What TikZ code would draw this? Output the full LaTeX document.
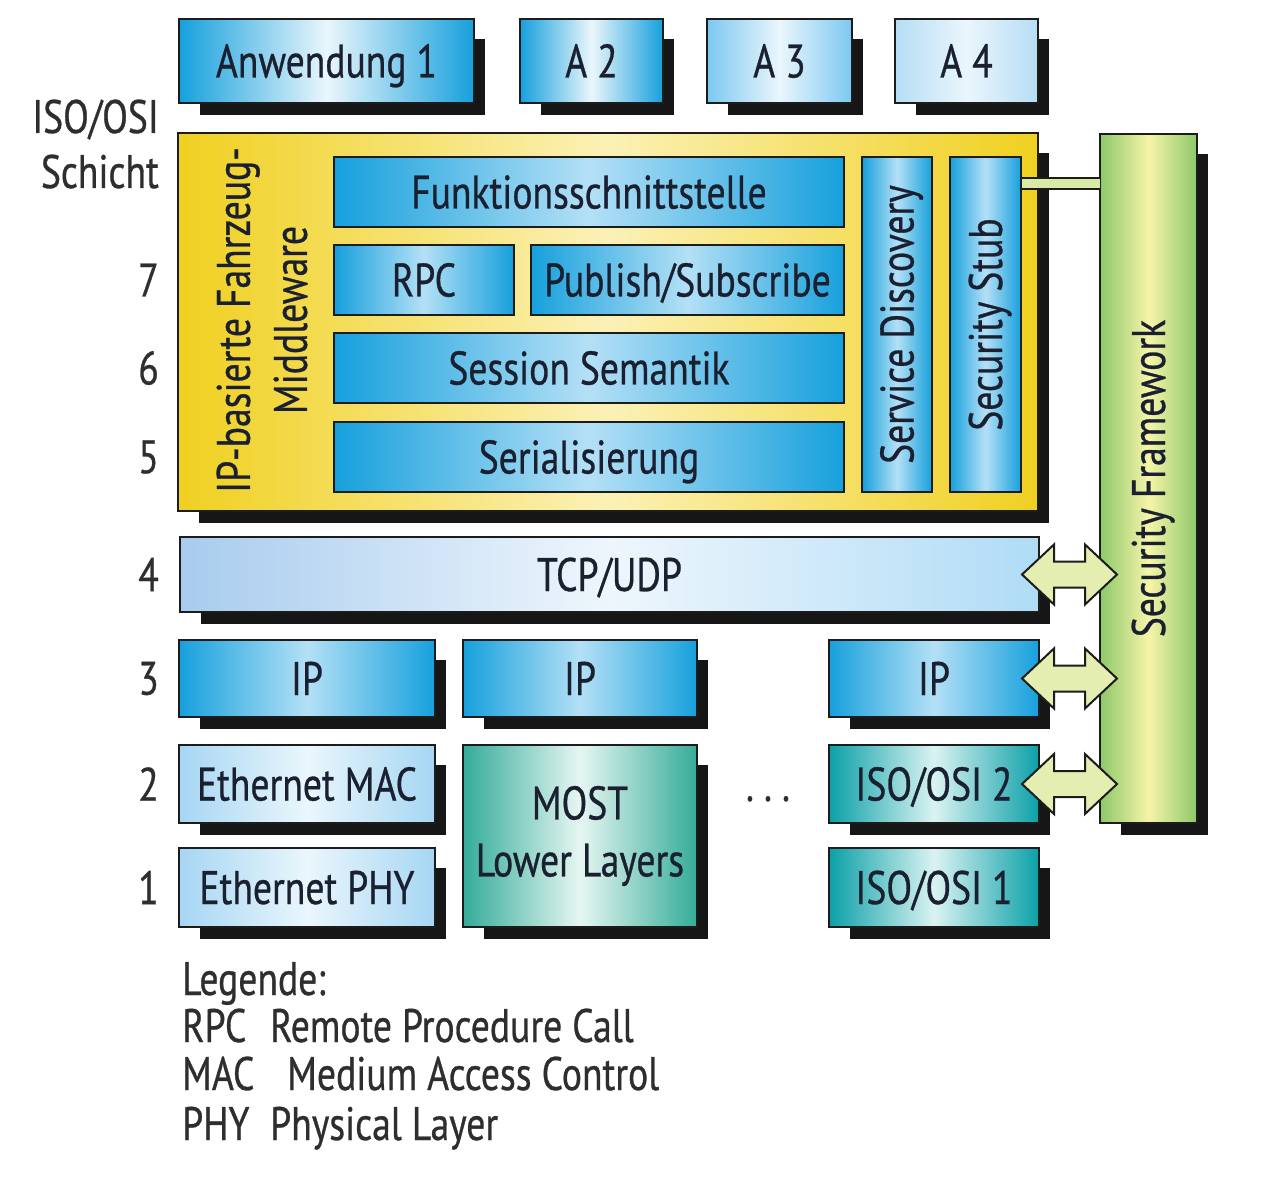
\documentclass[tikz,border=0pt]{standalone}
\usepackage{fontspec}
\setmainfont{PT Sans}[FakeStretch=0.8,FakeBold=0.6]
\usetikzlibrary{calc}
\pgfdeclarelayer{whitebg}
\pgfdeclarelayer{shadl}
\pgfsetlayers{whitebg,shadl,main}
\definecolor{outc}{HTML}{1C1C1C}
\definecolor{shadowc}{HTML}{161616}
\definecolor{txtc}{HTML}{1A2030}
\definecolor{labc}{HTML}{2E2E2E}
\definecolor{blueS}{HTML}{16A0DC}
\definecolor{blueW}{HTML}{EAF6FC}
\definecolor{blueM}{HTML}{B4E0F6}
\definecolor{blueA}{HTML}{7CC8F0}
\definecolor{blueAA}{HTML}{B6DDF5}
\definecolor{ethS}{HTML}{A6D6F3}
\definecolor{tealS}{HTML}{0CA0A8}
\definecolor{tealW}{HTML}{DAF3F2}
\definecolor{mostS}{HTML}{34AC98}
\definecolor{mostW}{HTML}{E6F6F2}
\definecolor{yelS}{HTML}{F0D020}
\definecolor{yelW}{HTML}{FBF1B6}
\definecolor{grnS}{HTML}{8EC86A}
\definecolor{grnW}{HTML}{F6F4A8}
\definecolor{tcpL}{HTML}{A8CCEE}
\definecolor{tcpM}{HTML}{EEF6FC}
\definecolor{tcpR}{HTML}{B0DCF6}
\definecolor{arrc}{HTML}{E4EEB0}
\definecolor{linkc}{HTML}{D8EAA8}
\newcommand\bigf{\fontsize{47}{57}\selectfont}
\newcommand\boxshadow[1]{%
  \begin{pgfonlayer}{shadl}
    \fill[shadowc] ([shift={(21,20)}]#1.north west) rectangle ([shift={(11,12)}]#1.south east);
  \end{pgfonlayer}}
\begin{document}
\begin{tikzpicture}[x=1pt,y=-1pt,
  boxbase/.style={draw=outc, line width=2.2pt, inner sep=0pt, outer sep=0pt,
    text=txtc, font=\bigf},
  box/.style={boxbase, text height=33pt, text depth=0pt},
  grad/.style n args={3}{left color=#1, right color=#3, middle color=#2},
  txt/.style={text=txtc, font=\bigf, inner sep=0pt, text height=33pt, text depth=0pt},
  lab/.style={text=labc, font=\bigf, inner sep=0pt},
  arr/.style={draw=outc, line width=2pt, fill=arrc, line join=miter},
  linkbar/.style={draw=outc, line width=2pt, double=linkc, double distance=9pt}
]
\begin{pgfonlayer}{whitebg}
\useasboundingbox[fill=white] (0,0) rectangle (1280,1190);
\end{pgfonlayer}

% applications
\node[box, grad={blueS}{blueW}{blueS}, minimum width=295pt, minimum height=84pt] (app1) at (326.5,61) {Anwendung 1};
\node[box, grad={blueS}{blueW}{blueS}, minimum width=143pt, minimum height=84pt] (a2) at (591.5,61) {A 2};
\node[box, grad={blueA}{blueW}{blueA}, minimum width=145pt, minimum height=84pt] (a3) at (779.5,61) {A 3};
\node[box, grad={blueAA}{blueW}{blueAA}, minimum width=143pt, minimum height=84pt] (a4) at (966.5,61) {A 4};

% middleware
\node[box, grad={yelS}{yelW}{yelS}, minimum width=860pt, minimum height=378pt] (mw) at (608,322) {};
\node[lab, text=txtc, rotate=90, align=center] (mwlabel) at (262,320) {IP-basierte Fahrzeug-\\Middleware};

% security framework
\node[box, grad={grnS}{grnW}{grnS}, minimum width=97pt, minimum height=689pt] (sf) at (1148.5,478.5) {};
\node[txt, rotate=90] (sflabel) at (sf.center) {Security Framework};

\draw[linkbar] (1010,183.5) -- (sf.west |- 0,183.5);

\node[box, grad={blueS}{blueM}{blueS}, minimum width=510pt, minimum height=70pt] (funk) at (589,192) {Funktionsschnittstelle};
\node[box, grad={blueS}{blueM}{blueS}, minimum width=180pt, minimum height=70pt] (rpc) at (424,280) {RPC};
\node[box, grad={blueS}{blueM}{blueS}, minimum width=313pt, minimum height=70pt] (pubsub) at (687.5,280) {Publish/Subscribe};
\node[box, grad={blueS}{blueM}{blueS}, minimum width=510pt, minimum height=70pt] (sess) at (589,368) {Session Semantik};
\node[box, grad={blueS}{blueM}{blueS}, minimum width=510pt, minimum height=70pt] (ser) at (589,457) {Serialisierung};
\node[box, grad={blueS}{blueM}{blueS}, minimum width=70pt, minimum height=335pt] (sd) at (897,324.5) {};
\node[txt, rotate=90] (sdlabel) at (sd.center) {Service Discovery};
\node[box, grad={blueS}{blueM}{blueS}, minimum width=71pt, minimum height=335pt] (ss) at (985.5,324.5) {};
\node[txt, rotate=90] (sslabel) at (ss.center) {Security Stub};

% transport and below
\node[box, grad={tcpL}{tcpM}{tcpR}, minimum width=859pt, minimum height=75pt] (tcp) at (609.5,574.5) {TCP/UDP};
\node[box, grad={blueS}{blueM}{blueS}, minimum width=256pt, minimum height=77pt] (ip1) at (307,678.5) {IP};
\node[box, grad={blueS}{blueM}{blueS}, minimum width=234pt, minimum height=77pt] (ip2) at (580,678.5) {IP};
\node[box, grad={blueS}{blueM}{blueS}, minimum width=210pt, minimum height=77pt] (ip3) at (934,678.5) {IP};
\node[box, grad={ethS}{blueW}{ethS}, minimum width=256pt, minimum height=78pt] (emac) at (307,784) {Ethernet MAC};
\node[box, grad={ethS}{blueW}{ethS}, minimum width=256pt, minimum height=79pt] (ephy) at (307,887.5) {Ethernet PHY};
\node[boxbase, grad={mostS}{mostW}{mostS}, minimum width=234pt, minimum height=182pt, align=center] (most) at (580,836) {MOST\\Lower Layers};
\node[box, grad={tealS}{tealW}{tealS}, minimum width=210pt, minimum height=78pt] (iso2) at (934,784) {ISO/OSI 2};
\node[box, grad={tealS}{tealW}{tealS}, minimum width=210pt, minimum height=79pt] (iso1) at (934,887.5) {ISO/OSI 1};
\node[lab, anchor=base] (dots) at (768,801) {.\hspace{10pt}.\hspace{10pt}.};

% shadows
\foreach \n in {app1,a2,a3,a4,mw,sf,tcp,ip1,ip2,ip3,emac,ephy,most,iso2,iso1}{\boxshadow{\n}}

% double arrows to the security framework
\coordinate (c4) at ($(tcp.east)!0.5!(sf.west |- tcp.east)$);
\coordinate (c3) at ($(ip3.east)!0.5!(sf.west |- ip3.east)$);
\coordinate (c2) at ($(iso2.east)!0.5!(sf.west |- iso2.east)$);
\foreach \c in {c4,c3,c2}{
  \draw[arr] (\c) ++(-47.5,0) -- ++(32,-30) -- ++(0,17) -- ++(31,0) -- ++(0,-17)
    -- ++(32,30) -- ++(-32,30) -- ++(0,-17) -- ++(-31,0) -- ++(0,17) -- cycle;
}

% layer labels
\node[lab, anchor=base east] (isoosi) at (159,133) {ISO/OSI};
\node[lab, anchor=base east] (schicht) at (159,188) {Schicht};
\node[lab, anchor=east] (n7) at (159,280) {7};
\node[lab, anchor=east] (n6) at (159,368) {6};
\node[lab, anchor=east] (n5) at (159,457) {5};
\node[lab, anchor=east] (n4) at (159,574.5) {4};
\node[lab, anchor=east] (n3) at (159,678.5) {3};
\node[lab, anchor=east] (n2) at (159,784) {2};
\node[lab, anchor=east] (n1) at (159,887.5) {1};

% legend
\node[lab, anchor=base west] (leg) at (182,995) {Legende:};
\node[lab, anchor=base west] (lrpc) at (182,1042) {RPC};
\node[lab, anchor=base west] (lrpcd) at (270,1042) {Remote Procedure Call};
\node[lab, anchor=base west] (lmac) at (182,1090) {MAC};
\node[lab, anchor=base west] (lmacd) at (287,1090) {Medium Access Control};
\node[lab, anchor=base west] (lphy) at (182,1140) {PHY};
\node[lab, anchor=base west] (lphyd) at (270,1140) {Physical Layer};
\end{tikzpicture}
\end{document}
